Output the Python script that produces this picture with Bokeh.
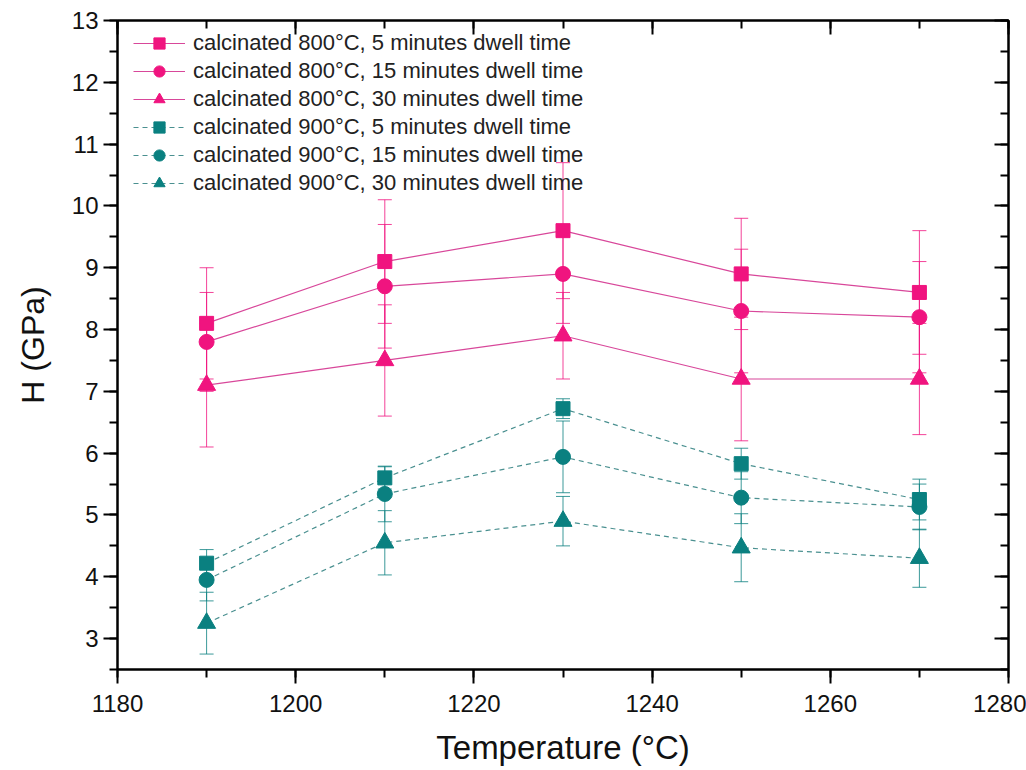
from bokeh.plotting import figure
from bokeh.models import (ColumnDataSource, Whisker, TeeHead, LinearAxis,
                          SingleIntervalTicker, Legend)
from bokeh.embed import file_html
from bokeh.resources import INLINE

temps = [1190, 1210, 1230, 1250, 1270]

h800_5 = [8.1, 9.1, 9.6, 8.9, 8.6]
e800_5 = [0.9, 1.0, 1.1, 0.9, 1.0]
h800_15 = [7.8, 8.7, 8.9, 8.3, 8.2]
e800_15 = [0.8, 1.0, 0.8, 1.0, 0.9]
h800_30 = [7.1, 7.5, 7.9, 7.2, 7.2]
e800_30 = [1.0, 0.9, 0.7, 1.0, 0.9]

h900_5 = [4.22, 5.6, 6.72, 5.83, 5.25]
e900_5 = [0.22, 0.18, 0.16, 0.25, 0.33]
h900_15 = [3.95, 5.34, 5.94, 5.28, 5.13]
e900_15 = [0.34, 0.45, 0.58, 0.42, 0.37]
h900_30 = [3.25, 4.55, 4.9, 4.47, 4.3]
e900_30 = [0.5, 0.52, 0.4, 0.55, 0.47]

labels = [
    "calcinated 800°C, 5 minutes dwell time",
    "calcinated 800°C, 15 minutes dwell time",
    "calcinated 800°C, 30 minutes dwell time",
    "calcinated 900°C, 5 minutes dwell time",
    "calcinated 900°C, 15 minutes dwell time",
    "calcinated 900°C, 30 minutes dwell time",
]

PINK = "#F0147F"
PINK_LINE = "#D8479A"
TEAL = "#0A8080"
TEAL_LINE = "#4A9090"

series = [
    (h800_5, e800_5, "square", 14, PINK, PINK_LINE, "solid"),
    (h800_15, e800_15, "circle", 15, PINK, PINK_LINE, "solid"),
    (h800_30, e800_30, "triangle", 18, PINK, PINK_LINE, "solid"),
    (h900_5, e900_5, "square", 14, TEAL, TEAL_LINE, "5 4"),
    (h900_15, e900_15, "circle", 15, TEAL, TEAL_LINE, "5 4"),
    (h900_30, e900_30, "triangle", 18, TEAL, TEAL_LINE, "5 4"),
]

p = figure(width=1026, height=770, x_range=(1180, 1280), y_range=(2.5, 13),
           output_backend="svg", toolbar_location=None,
           min_border_left=117, min_border_right=18,
           min_border_top=20, min_border_bottom=101)

p.xgrid.visible = False
p.ygrid.visible = False
p.outline_line_color = "black"
p.outline_line_width = 2
p.background_fill_color = "white"
p.border_fill_color = "white"

FONT = "Liberation Sans"

for (h, e, marker, size, mcol, lcol, dash) in series:
    src = ColumnDataSource(dict(x=temps,
                                lo=[a - b for a, b in zip(h, e)],
                                hi=[a + b for a, b in zip(h, e)]))
    w = Whisker(source=src, base="x", lower="lo", upper="hi",
                line_color=mcol, line_width=1, line_alpha=0.8, level="underlay",
                upper_head=TeeHead(size=14, line_color=mcol, line_width=1, line_alpha=0.8),
                lower_head=TeeHead(size=14, line_color=mcol, line_width=1, line_alpha=0.8))
    p.add_layout(w)

items = []
for (h, e, marker, size, mcol, lcol, dash), lab in zip(series, labels):
    src = ColumnDataSource(dict(x=temps, y=h))
    r1 = p.line("x", "y", source=src, line_color=lcol, line_width=1.2, line_dash=dash)
    r2 = p.scatter("x", "y", source=src, marker=marker, size=size,
                   fill_color=mcol, line_color=mcol)
    items.append((lab, [r1, r2]))

legend = Legend(items=items, location=(16, 472), padding=0, margin=0, spacing=0,
                label_height=28, glyph_height=28, glyph_width=52, label_standoff=8,
                label_text_font=FONT, label_text_font_size="22px",
                label_text_color="#222222",
                background_fill_alpha=0, border_line_color=None)
p.add_layout(legend)


def style_axis(ax, outward=True, labels_on=True):
    ax.axis_line_width = 2
    ax.axis_line_color = "black"
    ax.major_tick_line_width = 2
    ax.minor_tick_line_width = 2
    ax.major_tick_line_color = "black"
    ax.minor_tick_line_color = "black"
    if outward:
        ax.major_tick_out = 14
        ax.major_tick_in = 0
        ax.minor_tick_out = 8
        ax.minor_tick_in = 0
    else:
        ax.major_tick_out = 0
        ax.major_tick_in = 14
        ax.minor_tick_out = 0
        ax.minor_tick_in = 8
    ax.major_label_text_font = FONT
    ax.major_label_text_font_size = "24px"
    ax.major_label_text_color = "#111111"
    ax.axis_label_text_font = FONT
    ax.axis_label_text_font_style = "normal"
    ax.axis_label_text_color = "#111111"
    if not labels_on:
        ax.major_label_text_alpha = 0
        ax.major_label_text_font_size = "1px"


p.xaxis.ticker = SingleIntervalTicker(interval=20, num_minor_ticks=2)
p.yaxis.ticker = SingleIntervalTicker(interval=1, num_minor_ticks=2)
p.xaxis.axis_label = "Temperature (°C)"
p.yaxis.axis_label = "H (GPa)"
style_axis(p.xaxis[0])
style_axis(p.yaxis[0])
p.xaxis.axis_label_text_font_size = "33px"
p.yaxis.axis_label_text_font_size = "32px"
p.xaxis.major_label_standoff = 11
p.yaxis.major_label_standoff = 5
p.xaxis.axis_label_standoff = 14
p.yaxis.axis_label_standoff = 18

top = LinearAxis(ticker=SingleIntervalTicker(interval=20, num_minor_ticks=2))
style_axis(top, outward=False, labels_on=False)
p.add_layout(top, "above")
right = LinearAxis(ticker=SingleIntervalTicker(interval=1, num_minor_ticks=2))
style_axis(right, outward=False, labels_on=False)
p.add_layout(right, "right")

open("out.html", "w").write(file_html(p, INLINE))
